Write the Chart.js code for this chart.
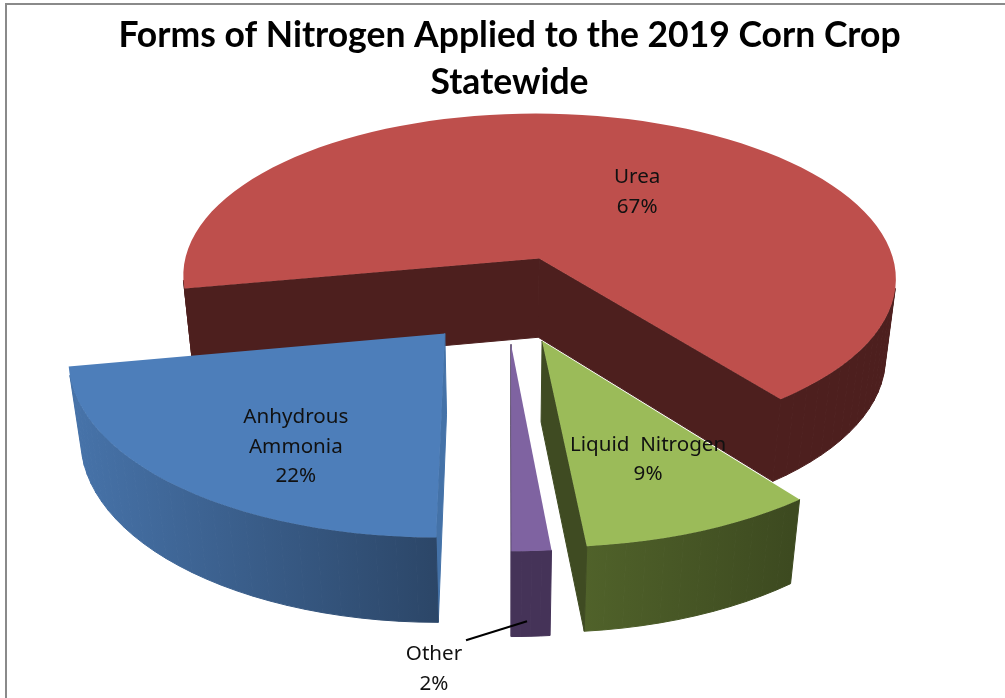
<!DOCTYPE html>
<html>
<head>
<meta charset="utf-8">
<title>Forms of Nitrogen</title>
<script src="https://cdn.jsdelivr.net/npm/chart.js@4"></script>
<style>
  html, body { margin: 0; padding: 0; background: #fff; }
  canvas { display: block; }
</style>
</head>
<body>
<canvas id="grafico" width="1005" height="698"></canvas>
<script>
const titulo = ["Forms of Nitrogen Applied to the 2019 Corn Crop", "Statewide"];
const categorias = ["Urea", "Liquid  Nitrogen", "Other", "Anhydrous Ammonia"];
const valores = [67.4, 9.0, 1.5, 22.1];
const linhasRotulo = [["Urea"], ["Liquid  Nitrogen"], ["Other"], ["Anhydrous", "Ammonia"]];

// cores
const corTopo = ["#be4f4c", "#9bbb59", "#7f63a1", "#4d7eba"];
const corParedeIni = ["#4d1f1e", "#54672c", "#453358", "#4672a8"];
const corParedeFim = ["#4d1f1e", "#3d4a20", "#453358", "#2b4566"];
const corCorte = ["#4d1f1e", "#3f4b22", "#453358", "#4472a8"];

// rotulo: deslocamento a partir do vertice da fatia
const deslocRotulo = [[98, -81], [106, 104], [-77, 310], [-149, 84]];
const linhaGuia = { indice: 2, de: [-45, 296], ate: [16, 277] };

// camera do pie 3d
const camera = { rx: 364, ry: 171, persp: 0.118, fundo: 0.028, altura: 82, ajusteX: -3, passos: 64 };

function projeta(el, u, v, z) {
  const k = 1 / (1 - camera.persp * v + camera.fundo * z);
  return {
    x: el.x + camera.ajusteX + camera.rx * u * k,
    y: el.y + camera.ry * v * k + camera.altura * z * k
  };
}

function vertice(el) {
  const meio = (el.startAngle + el.endAngle) / 2;
  const off = el.options.offset / el.outerRadius;
  return [off * Math.cos(meio), off * Math.sin(meio)];
}

// fatia desenhada em perspectiva a partir dos angulos calculados pelo Chart.js
class Fatia3D extends Chart.ArcElement {
  static id = "fatia3d";

  draw(ctx) {
    const [au, av] = vertice(this);
    const i = this.$context.dataIndex;
    const contorno = [[au, av, true]];
    const n = Math.max(4, Math.ceil(camera.passos * (this.endAngle - this.startAngle) / Math.PI));
    for (let s = 0; s <= n; s++) {
      const a = this.startAngle + (this.endAngle - this.startAngle) * s / n;
      contorno.push([au + Math.cos(a), av + Math.sin(a), false]);
    }
    contorno.push([au, av, true]);

    const xs = contorno.map(p => projeta(this, p[0], p[1], 1).x);
    const grad = ctx.createLinearGradient(Math.min(...xs), 0, Math.max(...xs), 0);
    grad.addColorStop(0, corParedeIni[i]);
    grad.addColorStop(1, corParedeFim[i]);

    ctx.save();
    ctx.lineWidth = 1;
    ctx.lineJoin = "round";
    for (let s = 0; s < contorno.length - 1; s++) {
      const p = contorno[s], q = contorno[s + 1];
      const a = projeta(this, p[0], p[1], 0), b = projeta(this, q[0], q[1], 0);
      const c = projeta(this, q[0], q[1], 1), d = projeta(this, p[0], p[1], 1);
      const area = (b.x - a.x) * (b.y + a.y) + (c.x - b.x) * (c.y + b.y) + (d.x - c.x) * (d.y + c.y) + (a.x - d.x) * (a.y + d.y);
      if (area <= 0) continue;
      const corte = p[2] || q[2];
      ctx.fillStyle = ctx.strokeStyle = corte ? corCorte[i] : grad;
      ctx.beginPath();
      ctx.moveTo(a.x, a.y);
      ctx.lineTo(b.x, b.y);
      ctx.lineTo(c.x, c.y);
      ctx.lineTo(d.x, d.y);
      ctx.closePath();
      ctx.fill();
      ctx.stroke();
    }
    ctx.beginPath();
    contorno.forEach((p, s) => {
      const t = projeta(this, p[0], p[1], 0);
      if (s === 0) ctx.moveTo(t.x, t.y); else ctx.lineTo(t.x, t.y);
    });
    ctx.closePath();
    ctx.fillStyle = this.options.backgroundColor;
    ctx.fill();
    ctx.restore();
  }
}

class Pizza3D extends Chart.PieController {
  static id = "pizza3d";
  static defaults = { dataElementType: "fatia3d" };
}

Chart.register(Fatia3D, Pizza3D);

const moldura = {
  id: "moldura",
  beforeDraw(chart) {
    const ctx = chart.ctx;
    ctx.save();
    ctx.strokeStyle = "#8a8a8a";
    ctx.lineWidth = 2;
    ctx.beginPath();
    ctx.moveTo(6, chart.height);
    ctx.lineTo(6, 4);
    ctx.lineTo(chart.width, 4);
    ctx.stroke();
    ctx.restore();
  }
};

const rotulos = {
  id: "rotulos",
  afterDatasetsDraw(chart) {
    const ctx = chart.ctx;
    const fatias = chart.getDatasetMeta(0).data;
    ctx.save();
    ctx.font = "20.6px 'Noto Sans'";
    ctx.fillStyle = "#111";
    ctx.textAlign = "center";
    ctx.textBaseline = "middle";
    fatias.forEach((el, i) => {
      const [au, av] = vertice(el);
      const o = projeta(el, au, av, 0);
      const linhas = [...linhasRotulo[i], Math.round(valores[i]) + "%"];
      linhas.forEach((txt, l) => {
        ctx.fillText(txt, o.x + deslocRotulo[i][0], o.y + deslocRotulo[i][1] + l * 29.5);
      });
      if (i === linhaGuia.indice) {
        ctx.strokeStyle = "#000";
        ctx.lineWidth = 2;
        ctx.beginPath();
        ctx.moveTo(o.x + linhaGuia.de[0], o.y + linhaGuia.de[1]);
        ctx.lineTo(o.x + linhaGuia.ate[0], o.y + linhaGuia.ate[1]);
        ctx.stroke();
      }
    });
    ctx.restore();
  }
};

new Chart(document.getElementById("grafico"), {
  type: "pizza3d",
  data: {
    labels: categorias,
    datasets: [{
      data: valores,
      backgroundColor: corTopo,
      borderWidth: 0,
      offset: 44,
      hoverOffset: 0,
      clip: false
    }]
  },
  options: {
    responsive: false,
    animation: false,
    rotation: 259.6,
    layout: { padding: { left: 14, bottom: 207 } },
    plugins: {
      legend: { display: false },
      tooltip: { enabled: false },
      title: {
        display: true,
        text: titulo,
        color: "#000",
        font: { family: "Lato", size: 35.5, weight: "bold", lineHeight: 1.33 },
        padding: { top: 12, bottom: 0 }
      }
    }
  },
  plugins: [moldura, rotulos]
});
</script>
</body>
</html>
